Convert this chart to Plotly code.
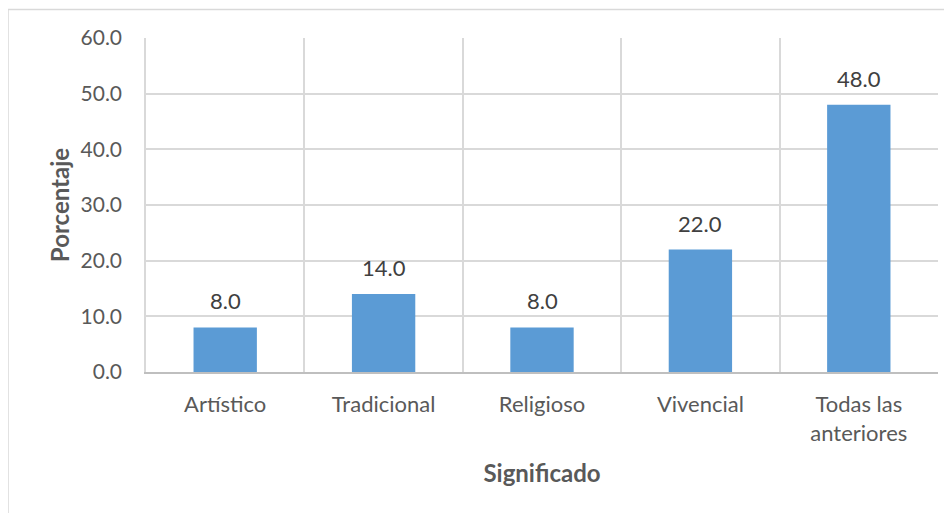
import plotly.graph_objects as go

categories = ["Artístico", "Tradicional", "Religioso", "Vivencial", "Todas las<br>anteriores"]
values = [8.0, 14.0, 8.0, 22.0, 48.0]
y_ticks = [0, 10, 20, 30, 40, 50, 60]

FONT = "Lato, 'Open Sans', sans-serif"
TXT = "#595959"

fig = go.Figure()
fig.add_trace(go.Bar(
    x=categories, y=values, width=0.4,
    marker=dict(color="#5B9BD5", line=dict(width=0)),
    hoverinfo="skip",
))

for c, v in zip(categories, values):
    fig.add_annotation(x=c, y=v, text=f"{v:.1f}", showarrow=False,
                       yanchor="bottom", yshift=11,
                       font=dict(family=FONT, size=22, color="#404040"))

fig.update_layout(
    width=952, height=513,
    margin=dict(l=138, r=22, t=30, b=149),
    paper_bgcolor="white", plot_bgcolor="white",
    showlegend=False,
    font=dict(family=FONT, size=22, color=TXT),
    xaxis=dict(
        type="category", tickson="boundaries", showgrid=True,
        gridcolor="#D9D9D9", gridwidth=1.5,
        showline=True, linecolor="#BFBFBF", linewidth=1.5,
        ticks="", ticklabelstandoff=12,
        tickfont=dict(family=FONT, size=22, color=TXT),
        title=dict(text="<b>Significado</b>", standoff=20,
                   font=dict(family=FONT, size=24, color=TXT)),
        range=[-0.5, 4.5],
    ),
    yaxis=dict(
        range=[0, 60], tickvals=y_ticks, tickformat=".1f",
        showgrid=True, gridcolor="#D9D9D9", gridwidth=1.5,
        showline=True, linecolor="#D9D9D9", linewidth=1.5,
        zeroline=False, ticks="", ticklabelstandoff=18,
        tickfont=dict(family=FONT, size=21, color=TXT),
        title=dict(text="<b>Porcentaje</b>", standoff=4,
                   font=dict(family=FONT, size=24, color=TXT)),
    ),
)

# chart outer border (only left and top visible in the crop)
fig.add_shape(type="rect", xref="paper", yref="paper",
              x0=(8 - 146) / 792, x1=1.2, y0=-0.6, y1=1 + (38 - 9.5) / 334,
              line=dict(color="#D9D9D9", width=1.5), fillcolor="rgba(0,0,0,0)",
              layer="below")

fig.write_html("out.html")
